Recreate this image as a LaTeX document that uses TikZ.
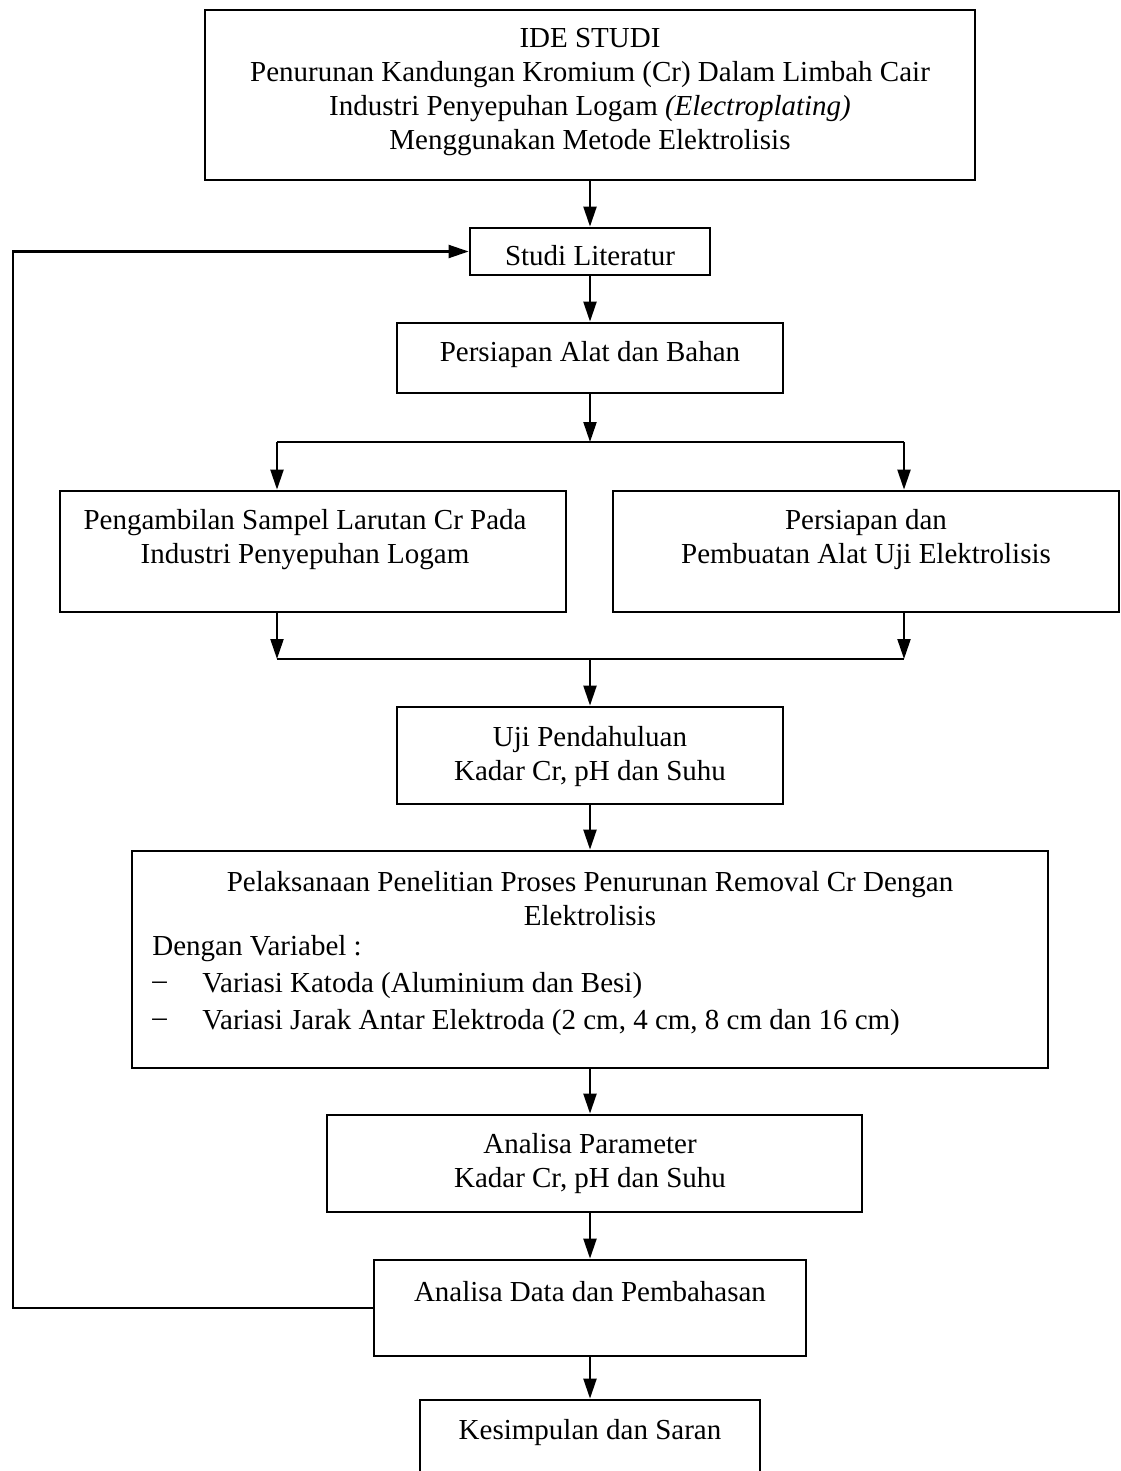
\documentclass[tikz,border=0pt]{standalone}
\usepackage{fontspec}
\setmainfont{Liberation Serif}
\usetikzlibrary{arrows.meta,fit}
\begin{document}
\begin{tikzpicture}[x=0.5pt,y=-0.5pt,
  box/.style={draw=black,line width=1.4pt,inner sep=0pt},
  txt/.style={inner sep=0pt,align=center,font=\fontsize{14.5}{17}\selectfont},
  ltxt/.style={inner sep=0pt,anchor=west,font=\fontsize{14.5}{17}\selectfont},
  conn/.style={draw=black,line width=1.1pt},
  arr/.style={conn,-{Triangle[width=6.5pt,length=10pt]}}]
\useasboundingbox (0,0) rectangle (1120,1471);
\clip (0,0) rectangle (1120,1471);
% boxes
\node[box,fit={(205,10)(975,180)}] (ide) {};
\node[box,fit={(470,228)(710,275)}] (studi) {};
\node[box,fit={(397,323)(783,393)}] (alat) {};
\node[box,fit={(60,491)(566,612)}] (sampel) {};
\node[box,fit={(613,491)(1119,612)}] (uji) {};
\node[box,fit={(397,707)(783,804)}] (pend) {};
\node[box,fit={(132,851)(1048,1068)}] (pel) {};
\node[box,fit={(327,1115)(862,1212)}] (param) {};
\node[box,fit={(374,1260)(806,1356)}] (data) {};
\node[box,fit={(420,1400)(760,1500)}] (kes) {};
% texts
\node[txt] at (590,92) {IDE STUDI\\Penurunan Kandungan Kromium (Cr) Dalam Limbah Cair\\Industri Penyepuhan Logam \textit{(Electroplating)}\\Menggunakan Metode Elektrolisis};
\node[txt] at (590,256) {Studi Literatur};
\node[txt] at (590,355) {Persiapan Alat dan Bahan};
\node[txt] at (305,540) {Pengambilan Sampel Larutan Cr Pada\\Industri Penyepuhan Logam};
\node[txt] at (866,540) {Persiapan dan\\Pembuatan Alat Uji Elektrolisis};
\node[txt] at (590,757) {Uji Pendahuluan\\Kadar Cr, pH dan Suhu};
\node[txt] at (590,899) {Pelaksanaan Penelitian Proses Penurunan Removal Cr Dengan\\Elektrolisis};
\node[ltxt] at (152,949) {Dengan Variabel :};
\node[ltxt] at (152,986) {--};
\node[ltxt] at (202,986) {Variasi Katoda (Aluminium dan Besi)};
\node[ltxt] at (152,1023) {--};
\node[ltxt] at (202,1023) {Variasi Jarak Antar Elektroda (2 cm, 4 cm, 8 cm dan 16 cm)};
\node[txt] at (590,1164) {Analisa Parameter\\Kadar Cr, pH dan Suhu};
\node[txt] at (590,1292) {Analisa Data dan Pembahasan};
\node[txt] at (590,1433) {Kesimpulan dan Saran};
% junction coordinates
\coordinate (s1) at (590,442);
\coordinate (s1l) at (277,442);
\coordinate (s1r) at (904,442);
\coordinate (m1) at (590,659);
\coordinate (m1l) at (277,659);
\coordinate (m1r) at (904,659);
\coordinate (fb) at (13,1308);
% connectors
\draw[arr] (ide.south) -- (studi.north);
\draw[arr] (studi.south) -- (alat.north);
\draw[arr] (alat.south) -- (s1);
\draw[conn] (s1l) -- (s1r);
\draw[arr] (s1l) -- (s1l |- sampel.north);
\draw[arr] (s1r) -- (s1r |- uji.north);
\draw[arr] (m1l |- sampel.south) -- (m1l);
\draw[arr] (m1r |- uji.south) -- (m1r);
\draw[conn] (m1l) -- (m1r);
\draw[arr] (m1) -- (pend.north);
\draw[arr] (pend.south) -- (pel.north);
\draw[arr] (pel.south) -- (pel.south |- param.north);
\draw[arr] (pel.south |- param.south) -- (data.north);
\draw[arr] (data.south) -- (kes.north);
\draw[arr] (data.west) -- (fb) |- (studi.west);
\end{tikzpicture}
\end{document}
